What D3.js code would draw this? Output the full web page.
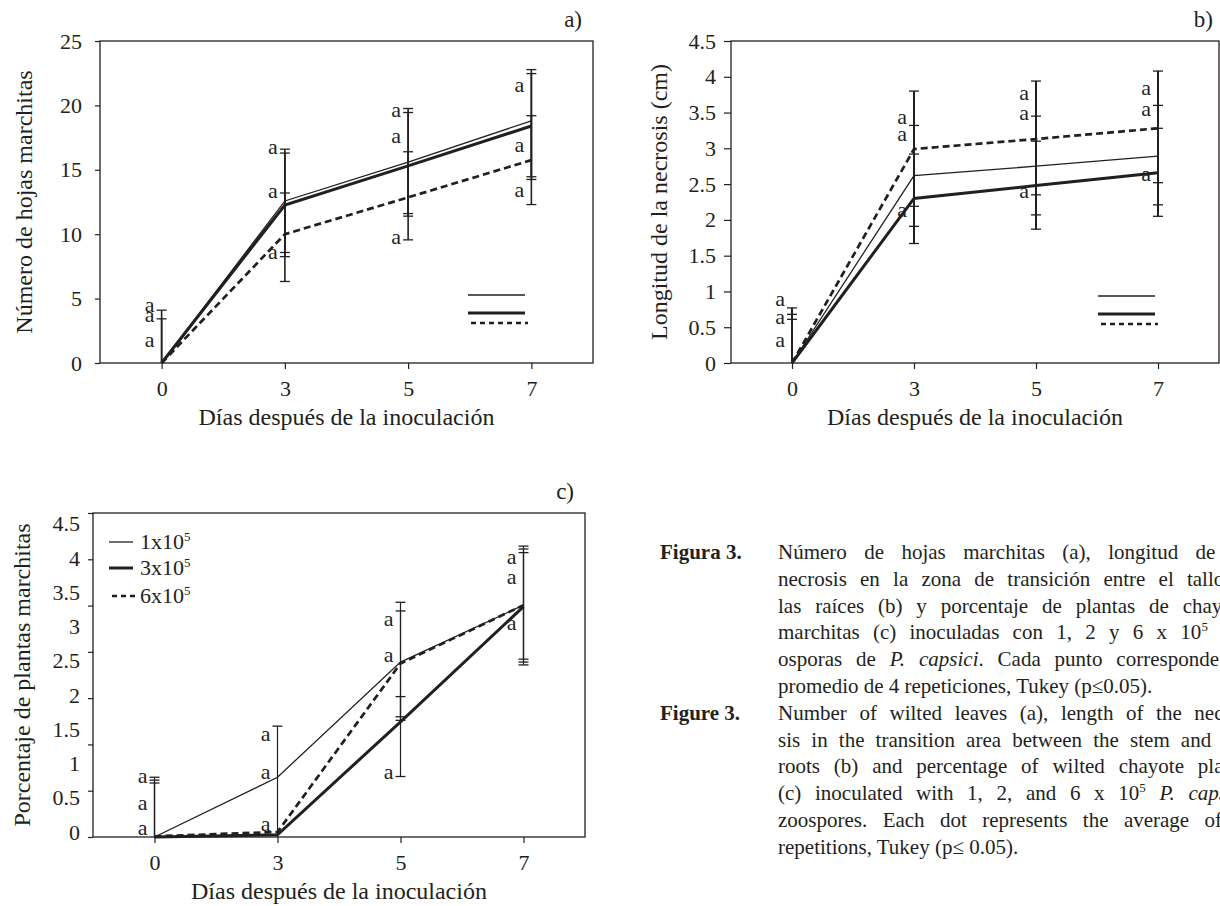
<!DOCTYPE html>
<html>
<head>
<meta charset="utf-8">
<script src="https://cdn.jsdelivr.net/npm/d3@7"></script>
<style>
  body { margin: 0; background: #fff; }
  svg { display: block; }
  text { font-family: "Liberation Serif", "Times New Roman", serif; fill: #231f20; }
</style>
</head>
<body>
<svg id="chart" width="1220" height="906"></svg>
<script>
// categories (días después de la inoculación)
const days = ['0', '3', '5', '7']
const doses = ['1x10', '3x10', '6x10']

// a) número de hojas marchitas
const hojas1 = [0, 12.58, 15.6, 18.8]
const hojas3 = [0, 12.27, 15.3, 18.4]
const hojas6 = [0, 10.0, 12.86, 15.75]
const hojas1Err = [[0, 4.1], [8.58, 16.6], [11.6, 19.76], [14.46, 22.78]]
const hojas3Err = [[0, 3.43], [8.26, 16.3], [11.4, 19.45], [14.25, 22.47]]
const hojas6Err = [[0, 0], [6.33, 13.2], [9.56, 16.4], [12.3, 19.2]]
const hojasLetters = [[4.35, 3.57, 1.63], [16.6, 13.2, 8.5], [19.5, 17.5, 9.6], [21.4, 16.8, 13.3]]
const hojasTicks = [0, 5, 10, 15, 20, 25]

// b) longitud de la necrosis (cm)
const necrosis1 = [0, 2.62, 2.75, 2.89]
const necrosis3 = [0, 2.30, 2.48, 2.66]
const necrosis6 = [0, 2.99, 3.13, 3.28]
const necrosis1Err = [[0, 0.77], [1.91, 3.32], [2.07, 3.45], [2.21, 3.6]]
const necrosis3Err = [[0, 0.68], [1.67, 2.92], [1.87, 3.1], [2.05, 3.28]]
const necrosis6Err = [[0, 0.61], [2.19, 3.80], [2.35, 3.94], [2.52, 4.08]]
const necrosisLetters = [[0.87, 0.61, 0.29], [3.41, 3.18, 2.11], [3.75, 3.46, 2.37], [3.81, 3.52, 2.62]]
const necrosisTicks = [0, 0.5, 1, 1.5, 2, 2.5, 3, 3.5, 4, 4.5]

// c) porcentaje de plantas marchitas
const plantas1 = [0, 0.83, 2.43, 3.22]
const plantas3 = [0, 0.03, 1.6, 3.2]
const plantas6 = [0.01, 0.07, 2.41, 3.22]
const plantas1Err = [[0, 0.83], [0, 1.54], [1.62, 3.26], [2.47, 3.95]]
const plantas3Err = [[0, 0.79], [0.03, 0.03], [0.84, 1.95], [2.43, 4.0]]
const plantas6Err = [[0, 0.75], [0.07, 0.07], [1.67, 3.14], [2.39, 4.04]]
const plantasLetters = [[0.82, 0.44, 0.1], [1.41, 0.87, 0.15], [3.0, 2.5, 0.87], [3.86, 3.58, 2.95]]
const plantasTickMarks = [0, 0.5, 1, 1.5, 2, 2.5, 3, 3.5]
const plantasTickLabels = [0, 0.5, 1, 1.5, 2, 2.5, 3, 3.5, 4, 4.5]

// caption
const captionEs = [
    'Número de hojas marchitas (a), longitud de la',
    'necrosis en la zona de transición entre el tallo y',
    'las raíces (b) y porcentaje de plantas de chayote',
    'marchitas (c) inoculadas con 1, 2 y 6 x 10^5 zo-',
    'osporas de _P. capsici_. Cada punto corresponde al',
    'promedio de 4 repeticiones, Tukey (p≤0.05).'
]
const captionEn = [
    'Number of wilted leaves (a), length of the necro-',
    'sis in the transition area between the stem and the',
    'roots (b) and percentage of wilted chayote plants',
    '(c) inoculated with 1, 2, and 6 x 10^5 _P. capsici_',
    'zoospores. Each dot represents the average of 4',
    'repetitions, Tukey (p≤ 0.05).'
]

const ink = '#231f20'
const lineStyles = [
    { width: 1.3, dash: null },
    { width: 3, dash: null },
    { width: 2.7, dash: '7,4' }
]

const svg = d3.select('#chart')

function drawPanel(p) {
    const x = d3.scalePoint().domain(days).range([p.left, p.right]).padding(0.5)
    const y = d3.scaleLinear().domain(p.domain).range([p.bottom, p.top])
    const g = svg.append('g')

    // y axis: tick marks and labels (panel c has them out of step)
    const markScale = p.markDomain ? d3.scaleLinear().domain(p.markDomain).range([p.bottom, p.top]) : y
    const labelScale = p.labelDomain ? d3.scaleLinear().domain(p.labelDomain).range(p.labelRange) : y

    g.append('g')
        .attr('transform', `translate(${p.left},0)`)
        .call(d3.axisLeft(markScale).tickValues(p.markTicks).tickSize(p.tickSize).tickFormat(''))
        .call(a => a.select('.domain').remove())
        .call(a => a.selectAll('line').attr('stroke', ink).attr('stroke-width', 1.2))

    g.append('g')
        .attr('transform', `translate(${p.left},0)`)
        .call(d3.axisLeft(labelScale).tickValues(p.labelTicks).tickSize(0)
            .tickPadding(p.tickSize + p.tickPad).tickFormat(d3.format('~g')))
        .call(a => a.select('.domain').remove())
        .call(a => a.selectAll('text').attr('font-size', 22).attr('fill', ink)
            .attr('font-family', '"Liberation Serif", serif'))

    // x axis
    g.append('g')
        .attr('transform', `translate(0,${p.bottom})`)
        .call(d3.axisBottom(x).tickSize(6).tickPadding(11))
        .call(a => a.select('.domain').remove())
        .call(a => a.selectAll('line').attr('stroke', ink).attr('stroke-width', 1.2))
        .call(a => a.selectAll('text').attr('font-size', 22).attr('fill', ink)
            .attr('font-family', '"Liberation Serif", serif'))

    // frame
    g.append('rect')
        .attr('x', p.left).attr('y', p.top)
        .attr('width', p.right - p.left).attr('height', p.bottom - p.top)
        .attr('fill', 'none').attr('stroke', ink).attr('stroke-width', 1.3)

    // error bars
    p.errors.forEach((err, s) => {
        err.forEach((e, i) => {
            const cx = x(days[i])
            const mean = p.series[s][i]
            if (e[1] > e[0]) {
                g.append('line')
                    .attr('x1', cx).attr('x2', cx)
                    .attr('y1', y(e[0])).attr('y2', y(e[1]))
                    .attr('stroke', ink).attr('stroke-width', p.barWidth)
            }
            const caps = []
            if (e[1] > mean) caps.push(e[1])
            if (e[0] > 0 && e[0] < mean) caps.push(e[0])
            caps.forEach(v => {
                g.append('line')
                    .attr('x1', cx - 5).attr('x2', cx + 5)
                    .attr('y1', y(v)).attr('y2', y(v))
                    .attr('stroke', ink).attr('stroke-width', 1.3)
            })
        })
    })

    // series lines
    const line = d3.line().x((d, i) => x(days[i])).y(d => y(d))
    p.series.forEach((values, s) => {
        g.append('path')
            .datum(values)
            .attr('d', line)
            .attr('fill', 'none')
            .attr('stroke', ink)
            .attr('stroke-width', lineStyles[s].width)
            .attr('stroke-dasharray', lineStyles[s].dash)
    })

    // Tukey letters
    p.letters.forEach((vals, i) => {
        vals.forEach(v => {
            g.append('text')
                .attr('x', x(days[i]) - 7)
                .attr('y', y(v))
                .attr('dy', '0.23em')
                .attr('text-anchor', 'end')
                .attr('font-size', 22)
                .text('a')
        })
    })

    // legend
    p.legendY.forEach((ly, s) => {
        g.append('line')
            .attr('x1', p.legendX[0] + (lineStyles[s].dash ? 3 : 0))
            .attr('x2', p.legendX[1] + (lineStyles[s].dash ? 3 : 0))
            .attr('y1', ly).attr('y2', ly)
            .attr('stroke', ink)
            .attr('stroke-width', lineStyles[s].width)
            .attr('stroke-dasharray', lineStyles[s].dash ? '5,4' : null)
        if (p.legendText) {
            const t = g.append('text')
                .attr('x', p.legendX[1] + 7)
                .attr('y', ly + 7)
                .attr('font-size', 22)
            t.append('tspan').text(doses[s])
            t.append('tspan').attr('dy', -8).attr('font-size', 13).text('5')
        }
    })

    // axis titles
    g.append('text')
        .attr('transform', `translate(${p.yTitleX},${(p.top + p.bottom) / 2}) rotate(-90)`)
        .attr('dy', '0.35em')
        .attr('text-anchor', 'middle')
        .attr('font-size', 24)
        .text(p.yTitle)

    g.append('text')
        .attr('x', (p.left + p.right) / 2)
        .attr('y', p.bottom + 62)
        .attr('text-anchor', 'middle')
        .attr('font-size', 24)
        .text('Días después de la inoculación')

    // panel tag
    g.append('text')
        .attr('x', p.tagX)
        .attr('y', p.top - 14)
        .attr('text-anchor', 'end')
        .attr('font-size', 23)
        .text(p.tag)
}

drawPanel({
    left: 100, right: 593, top: 41, bottom: 363,
    domain: [0, 25], markTicks: hojasTicks, labelTicks: hojasTicks,
    tickSize: 5, tickPad: 13, barWidth: 1.6,
    series: [hojas1, hojas3, hojas6],
    errors: [hojas1Err, hojas3Err, hojas6Err],
    letters: hojasLetters,
    legendX: [468, 525], legendY: [295, 313, 323], legendText: false,
    yTitle: 'Número de hojas marchitas', yTitleX: 24,
    tag: 'a)', tagX: 582
})

drawPanel({
    left: 731, right: 1219, top: 41, bottom: 363,
    domain: [0, 4.5], markTicks: necrosisTicks, labelTicks: necrosisTicks,
    tickSize: 7, tickPad: 8, barWidth: 2,
    series: [necrosis1, necrosis3, necrosis6],
    errors: [necrosis1Err, necrosis3Err, necrosis6Err],
    letters: necrosisLetters,
    legendX: [1098, 1155], legendY: [296, 314, 324], legendText: false,
    yTitle: 'Longitud de la necrosis (cm)', yTitleX: 659,
    tag: 'b)', tagX: 1213
})

drawPanel({
    left: 93, right: 585, top: 513, bottom: 837,
    domain: [0, 4.5],
    markDomain: [0, 3.5], markTicks: plantasTickMarks,
    labelDomain: [0, 4], labelRange: [832, 558], labelTicks: plantasTickLabels,
    tickSize: 5, tickPad: 8, barWidth: 1.2,
    series: [plantas1, plantas3, plantas6],
    errors: [plantas1Err, plantas3Err, plantas6Err],
    letters: plantasLetters,
    legendX: [109, 133], legendY: [542, 568, 596], legendText: true,
    yTitle: 'Porcentaje de plantas marchitas', yTitleX: 22,
    tag: 'c)', tagX: 574
})

// caption, justified like the journal column
const capX = 778, capWidth = 470, capTop = 559, capLead = 26.8

function captionLine(str, row, justify) {
    const t = svg.append('text')
        .attr('x', capX)
        .attr('y', capTop + row * capLead)
        .attr('font-size', 21)
    let lift = 0
    str.split(/(_[^_]+_|\^\d)/).filter(s => s !== '').forEach(part => {
        let span
        if (part.startsWith('^')) {
            span = t.append('tspan').attr('dy', -8).attr('font-size', 13).text(part.slice(1))
            lift = 8
            return
        }
        if (part.startsWith('_')) {
            span = t.append('tspan').attr('font-style', 'italic').text(part.slice(1, -1))
        } else {
            span = t.append('tspan').text(part)
        }
        if (lift) {
            span.attr('dy', lift)
            lift = 0
        }
    })
    if (justify) {
        const spaces = (str.match(/ /g) || []).length
        const extra = capWidth - t.node().getComputedTextLength()
        if (spaces > 0 && extra > 0) t.attr('word-spacing', extra / spaces)
    }
}

function captionBlock(label, lines, startRow) {
    svg.append('text')
        .attr('x', 660)
        .attr('y', capTop + startRow * capLead)
        .attr('font-size', 21)
        .attr('font-weight', 'bold')
        .text(label)
    lines.forEach((l, i) => captionLine(l, startRow + i, i < lines.length - 1))
}

captionBlock('Figura 3.', captionEs, 0)
captionBlock('Figure 3.', captionEn, 6)
</script>
</body>
</html>
